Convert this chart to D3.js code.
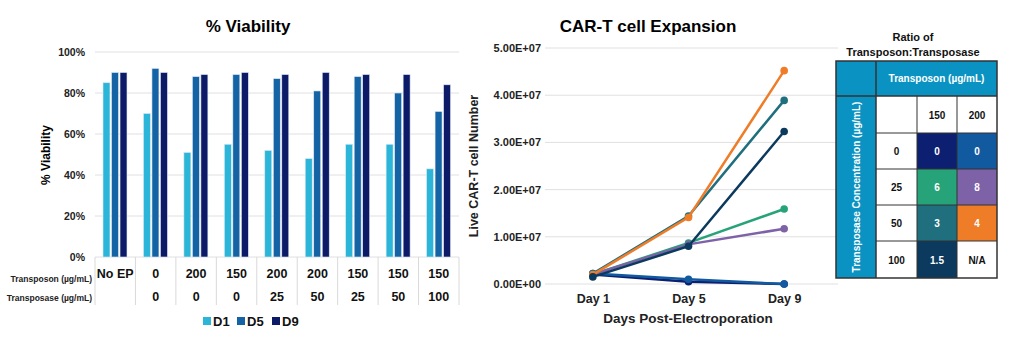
<!DOCTYPE html>
<html>
<head>
<meta charset="utf-8">
<script src="https://cdn.jsdelivr.net/npm/d3@7"></script>
<style>
  body { margin: 0; background: #fff; }
  svg { font-family: "Liberation Sans", Arial, sans-serif; font-weight: bold; }
</style>
</head>
<body>
<div id="chart-area"></div>
<script>
// ---- viability bar chart data
let groups = ["No EP", "0", "200", "150", "200", "200", "150", "150", "150"];
let transposase = ["", "0", "0", "0", "25", "50", "25", "50", "100"];
let seriesNames = ["D1", "D5", "D9"];
let d1 = [85, 70, 51, 55, 52, 48, 55, 55, 43];
let d5 = [90, 92, 88, 89, 87, 81, 88, 80, 71];
let d9 = [90, 90, 89, 90, 89, 90, 89, 89, 84];
let barColors = ["#2bb5d8", "#1464a5", "#0c1a68"];
let pctTicks = [0, 20, 40, 60, 80, 100];

// ---- expansion line chart data
let days = ["Day 1", "Day 5", "Day 9"];
let lineNames = ["150/0", "200/0", "150/25", "200/25", "150/50", "200/50", "150/100"];
let lineValues = [
  [2.0e6, 0.5e6, 0.0],
  [2.2e6, 1.0e6, 0.0],
  [2.0e6, 8.7e6, 15.9e6],
  [2.0e6, 8.4e6, 11.7e6],
  [2.2e6, 14.4e6, 38.9e6],
  [2.0e6, 14.1e6, 45.2e6],
  [1.5e6, 8.0e6, 32.3e6]
];
let lineColors = ["#0c1f70", "#125aa0", "#27a37a", "#7d62a8", "#1f6f7f", "#ef7d28", "#0b3a5e"];
let countTicks = [0, 1e7, 2e7, 3e7, 4e7, 5e7];
let countLabels = ["0.00E+00", "1.00E+07", "2.00E+07", "3.00E+07", "4.00E+07", "5.00E+07"];

// ---- ratio table data
let tableCols = ["150", "200"];
let tableRows = ["0", "25", "50", "100"];
let ratios = [["0", "0"], ["6", "8"], ["3", "4"], ["1.5", "N/A"]];
let ratioColors = [["#0c1f70", "#125aa0"], ["#27a37a", "#7d62a8"], ["#1f6f7f", "#ef7d28"], ["#0b3a5e", "#fff"]];

let svg = d3.select("#chart-area").append("svg")
            .attr("width", 1024).attr("height", 350);

// ================= bar chart =================
let x0 = d3.scaleBand().domain(d3.range(groups.length)).range([95, 459]);
let x1 = d3.scaleBand().domain(seriesNames).range([8, 32]).paddingInner(0.18);
let y = d3.scaleLinear().domain([0, 100]).range([257, 52]);

svg.append("text").attr("x", 248).attr("y", 32).attr("text-anchor", "middle")
   .attr("font-size", 17).text("% Viability");

svg.append("g").selectAll("line").data(pctTicks).enter().append("line")
   .attr("x1", 95).attr("x2", 459)
   .attr("y1", d => y(d)).attr("y2", d => y(d))
   .attr("stroke", "#e0e0e0").attr("stroke-width", 1);

let yAxis = svg.append("g").attr("transform", "translate(95,0)")
   .call(d3.axisLeft(y).tickValues(pctTicks).tickFormat(d => d + "%").tickSize(0).tickPadding(10));
yAxis.select(".domain").remove();
yAxis.selectAll("text").attr("font-size", 10.5).attr("font-family", "Liberation Sans, Arial").attr("font-weight", "bold").attr("fill", "#222");

svg.append("text").attr("transform", "translate(50,155) rotate(-90)")
   .attr("text-anchor", "middle").attr("font-size", 12).text("% Viability");

let barData = [d1, d5, d9];
groups.forEach(function(g, i){
  let gEl = svg.append("g").attr("transform", "translate(" + x0(i) + ",0)");
  gEl.selectAll("rect").data(seriesNames).enter().append("rect")
     .attr("x", d => x1(d))
     .attr("y", (d, k) => y(barData[k][i]))
     .attr("width", x1.bandwidth())
     .attr("height", (d, k) => y(0) - y(barData[k][i]))
     .attr("fill", (d, k) => barColors[k])
     .attr("stroke", "#dfe9f3").attr("stroke-width", 0.6);
});

// category table under the bars
svg.append("g").selectAll("line").data(d3.range(groups.length + 1)).enter().append("line")
   .attr("x1", d => d < groups.length ? x0(d) : 459)
   .attr("x2", d => d < groups.length ? x0(d) : 459)
   .attr("y1", 257).attr("y2", 305)
   .attr("stroke", "#d9d9d9");
svg.append("g").selectAll("text").data(groups).enter().append("text")
   .attr("x", (d, i) => x0(i) + x0.bandwidth() / 2).attr("y", 278)
   .attr("text-anchor", "middle").attr("font-size", 12.5).attr("fill", "#111")
   .text(d => d);
svg.append("g").selectAll("text").data(transposase).enter().append("text")
   .attr("x", (d, i) => x0(i) + x0.bandwidth() / 2).attr("y", 301)
   .attr("text-anchor", "middle").attr("font-size", 12.5).attr("fill", "#111")
   .text(d => d);
svg.append("text").attr("x", 92).attr("y", 282).attr("text-anchor", "end")
   .attr("font-size", 8.5).attr("fill", "#222").text("Transposon (µg/mL)");
svg.append("text").attr("x", 92).attr("y", 301).attr("text-anchor", "end")
   .attr("font-size", 8.5).attr("fill", "#222").text("Transposase (µg/mL)");

// legend
let legendX = [203, 237, 272];
let leg = svg.append("g").selectAll("g").data(seriesNames).enter().append("g")
   .attr("transform", (d, i) => "translate(" + legendX[i] + ",317)");
leg.append("rect").attr("width", 8).attr("height", 8).attr("fill", (d, i) => barColors[i]);
leg.append("text").attr("x", 10).attr("y", 9).attr("font-size", 13).attr("fill", "#111").text(d => d);

// ================= line chart =================
let xp = d3.scalePoint().domain(days).range([545, 832]).padding(0.5);
let yc = d3.scaleLinear().domain([0, 5e7]).range([284, 48]);

svg.append("text").attr("x", 648).attr("y", 32).attr("text-anchor", "middle")
   .attr("font-size", 17).text("CAR-T cell Expansion");

svg.append("g").selectAll("line").data(countTicks).enter().append("line")
   .attr("x1", 545).attr("x2", 838)
   .attr("y1", d => yc(d)).attr("y2", d => yc(d))
   .attr("stroke", "#e0e0e0");

let ycAxis = svg.append("g").attr("transform", "translate(545,0)")
   .call(d3.axisLeft(yc).tickValues(countTicks)
   .tickFormat((d, i) => countLabels[i])
   .tickSize(0).tickPadding(4));
ycAxis.select(".domain").remove();
ycAxis.selectAll("text").attr("font-size", 11).attr("font-family", "Liberation Sans, Arial").attr("font-weight", "bold").attr("fill", "#222");

let xpAxis = svg.append("g").attr("transform", "translate(0,284)")
   .call(d3.axisBottom(xp).tickSize(0).tickPadding(10));
xpAxis.select(".domain").remove();
xpAxis.selectAll("text").attr("font-size", 12.5).attr("font-family", "Liberation Sans, Arial").attr("font-weight", "bold").attr("fill", "#222");

svg.append("text").attr("x", 688).attr("y", 323).attr("text-anchor", "middle")
   .attr("font-size", 13.5).attr("fill", "#222").text("Days Post-Electroporation");
svg.append("text").attr("transform", "translate(478,166) rotate(-90)")
   .attr("text-anchor", "middle").attr("font-size", 12.5).attr("fill", "#222").text("Live CAR-T cell Number");

let line = d3.line().x((d, i) => xp(days[i])).y(d => yc(d));
let series = svg.append("g").selectAll("g").data(lineValues).enter().append("g");
series.append("path").attr("d", d => line(d)).attr("fill", "none")
   .attr("stroke", (d, i) => lineColors[i]).attr("stroke-width", 2.5);
series.selectAll("circle").data((d, i) => d.map(v => ({v: v, c: lineColors[i]}))).enter().append("circle")
   .attr("cx", (d, k) => xp(days[k])).attr("cy", d => yc(d.v)).attr("r", 3.8)
   .attr("fill", d => d.c);

// ================= ratio table =================
let tx = [836, 876, 917, 957, 997];
let ty = [61, 96, 133, 169, 205, 241, 278];
let tblue = "#0a93c2";
let tbl = svg.append("g");

svg.append("text").attr("x", 913).attr("y", 41).attr("text-anchor", "middle")
   .attr("font-size", 11).attr("fill", "#111").text("Ratio of");
svg.append("text").attr("x", 913).attr("y", 56).attr("text-anchor", "middle")
   .attr("font-size", 11).attr("fill", "#111").text("Transposon:Transposase");

tbl.append("rect").attr("x", tx[0]).attr("y", ty[0]).attr("width", tx[1] - tx[0]).attr("height", ty[6] - ty[0]).attr("fill", tblue);
tbl.append("rect").attr("x", tx[1]).attr("y", ty[0]).attr("width", tx[4] - tx[1]).attr("height", ty[1] - ty[0]).attr("fill", tblue);
tbl.append("text").attr("x", (tx[1] + tx[4]) / 2).attr("y", ty[0] + 21).attr("text-anchor", "middle")
   .attr("font-size", 10).attr("fill", "#fff").text("Transposon (µg/mL)");
tbl.append("text").attr("transform", "translate(" + ((tx[0] + tx[1]) / 2 + 4) + "," + ((ty[1] + ty[6]) / 2) + ") rotate(-90)")
   .attr("text-anchor", "middle").attr("font-size", 10).attr("fill", "#fff").text("Transposase Concentration (µg/mL)");

// header row (column labels)
tbl.selectAll(".colhead").data(["", ...tableCols]).enter().append("text")
   .attr("x", (d, i) => (tx[i + 1] + tx[i + 2]) / 2).attr("y", (ty[1] + ty[2]) / 2 + 4)
   .attr("text-anchor", "middle").attr("font-size", 10).attr("fill", "#111").text(d => d);

// body rows
tableRows.forEach(function(r, ri){
  let yy = ty[ri + 2];
  let h = ty[ri + 3] - yy;
  tbl.append("text").attr("x", (tx[1] + tx[2]) / 2).attr("y", yy + h / 2 + 4)
     .attr("text-anchor", "middle").attr("font-size", 10).attr("fill", "#111").text(r);
  ratios[ri].forEach(function(v, ci){
    tbl.append("rect").attr("x", tx[ci + 2]).attr("y", yy).attr("width", tx[ci + 3] - tx[ci + 2]).attr("height", h)
       .attr("fill", ratioColors[ri][ci]);
    tbl.append("text").attr("x", (tx[ci + 2] + tx[ci + 3]) / 2).attr("y", yy + h / 2 + 4)
       .attr("text-anchor", "middle").attr("font-size", 10)
       .attr("fill", ratioColors[ri][ci] === "#fff" ? "#111" : "#fff").text(v);
  });
});

// grid borders
let bc = "#333";
tbl.append("rect").attr("x", tx[0]).attr("y", ty[0]).attr("width", tx[4] - tx[0]).attr("height", ty[6] - ty[0])
   .attr("fill", "none").attr("stroke", bc).attr("stroke-width", 1.5);
tbl.append("line").attr("x1", tx[1]).attr("x2", tx[1]).attr("y1", ty[0]).attr("y2", ty[6]).attr("stroke", bc).attr("stroke-width", 1.5);
tbl.append("line").attr("x1", tx[0]).attr("x2", tx[4]).attr("y1", ty[1]).attr("y2", ty[1]).attr("stroke", bc).attr("stroke-width", 1.5);
tbl.selectAll(".vl").data([tx[2], tx[3]]).enter().append("line")
   .attr("x1", d => d).attr("x2", d => d).attr("y1", ty[1]).attr("y2", ty[6]).attr("stroke", bc).attr("stroke-width", 1);
tbl.selectAll(".hl").data(ty.slice(2, 6)).enter().append("line")
   .attr("x1", tx[1]).attr("x2", tx[4]).attr("y1", d => d).attr("y2", d => d).attr("stroke", bc).attr("stroke-width", 1);
</script>
</body>
</html>
